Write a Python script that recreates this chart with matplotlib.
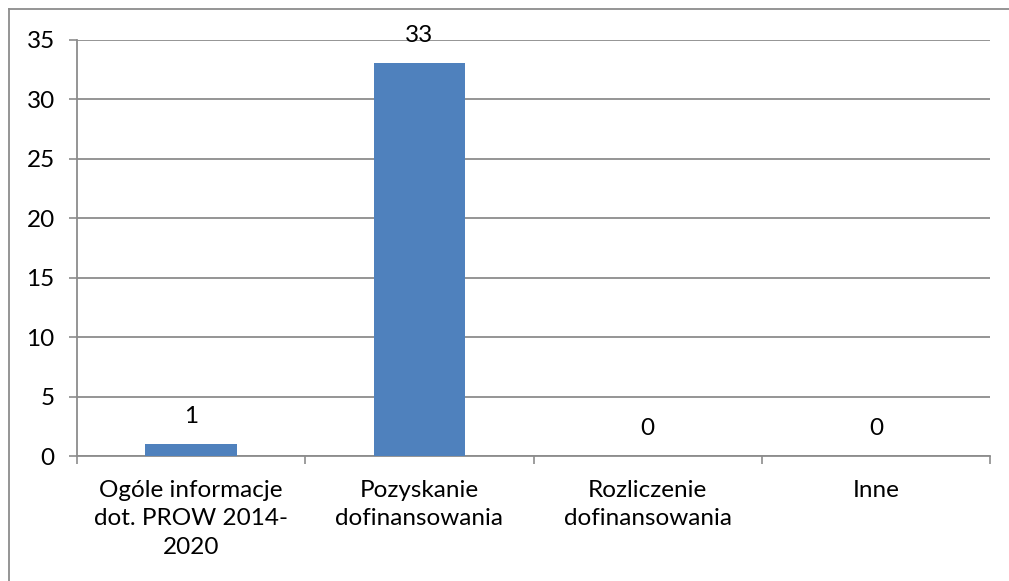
import matplotlib.pyplot as plt
import numpy as np
from matplotlib.lines import Line2D

categories = [
    "Ogóle informacje\ndot. PROW 2014-\n2020",
    "Pozyskanie\ndofinansowania",
    "Rozliczenie\ndofinansowania",
    "Inne",
]
values = [1, 33, 0, 0]
y_ticks = [0, 5, 10, 15, 20, 25, 30, 35]

plt.rcParams["font.family"] = ["Lato", "DejaVu Sans"]
grid_color = "#8c8c8c"
fs = 17.5

fig = plt.figure(figsize=(10.09, 5.81), dpi=100)
ax = fig.add_axes([0.0763, 0.2151, 0.9049, 0.7169])

x = np.arange(len(values))
ax.bar(x, values, width=0.4, color="#4f81bd", zorder=3)
for xi, v in zip(x, values):
    ax.annotate(str(v), (xi, v), xytext=(0, 20), textcoords="offset points",
                ha="center", va="center", fontsize=fs, color="black", zorder=4)

ax.set_xlim(-0.5, len(values) - 0.5)
ax.set_ylim(0, 35)
ax.set_yticks(y_ticks)
ax.tick_params(axis="y", length=6, width=1.2, color=grid_color, labelsize=fs, pad=10)
ax.yaxis.grid(True, color=grid_color, linewidth=1.3, zorder=0)
ax.set_axisbelow(True)

# category boundaries as tick marks, labels in between
ax.set_xticks(np.arange(-0.5, len(values)), minor=False)
ax.set_xticklabels([])
ax.tick_params(axis="x", which="major", length=6, width=1.2, color=grid_color)
ax.set_xticks(x, minor=True)
ax.set_xticklabels(categories, minor=True, fontsize=fs, linespacing=1.45)
ax.tick_params(axis="x", which="minor", length=0, pad=17)

for side in ["top", "right"]:
    ax.spines[side].set_visible(False)
for side in ["left", "bottom"]:
    ax.spines[side].set_color(grid_color)
    ax.spines[side].set_linewidth(1.3)

# chart border (only left and top visible in the reference)
fig.add_artist(Line2D([8.5 / 1009, 8.5 / 1009], [0, 1 - 9 / 581],
                      transform=fig.transFigure, color=grid_color, linewidth=1.3))
fig.add_artist(Line2D([8.5 / 1009, 1], [1 - 9 / 581, 1 - 9 / 581],
                      transform=fig.transFigure, color=grid_color, linewidth=1.3))

fig.savefig("out.png", dpi=100)
